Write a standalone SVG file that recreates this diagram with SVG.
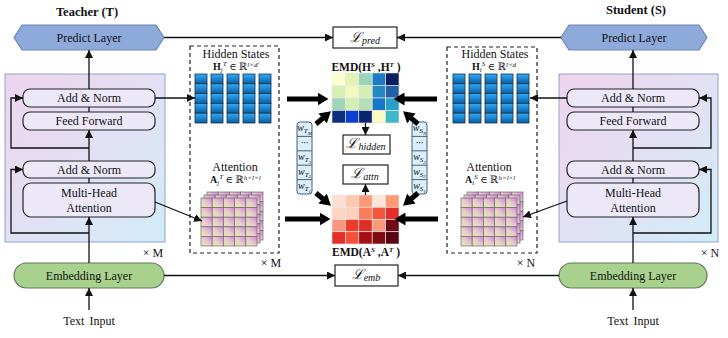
<svg xmlns="http://www.w3.org/2000/svg" xmlns:xlink="http://www.w3.org/1999/xlink" width="728" height="338" viewBox="0 0 728 338">
<style>
text{font-family:"Liberation Serif","DejaVu Serif",serif;fill:#111;}
.lbl{font-size:12px;text-anchor:middle;}
.ttl{font-size:12.5px;font-weight:bold;text-anchor:middle;}
.math{font-size:10px;}
.sm{font-size:7px;font-style:italic;}
.blk{fill:url(#blockGrad);stroke:#8ea6c6;stroke-width:1;}
.inner{fill:#ece8f7;stroke:#222;stroke-width:1.2;}
.pred{fill:#8eaadb;stroke:#6a86b8;stroke-width:1.2;}
.emb{fill:#a9d18e;stroke:#5f7d55;stroke-width:1.2;}
.dash{fill:none;stroke:#222;stroke-width:1.2;stroke-dasharray:4 3;}
.lossbox{fill:#fff;stroke:#222;stroke-width:1.2;}
.loss{font-family:"DejaVu Serif","Liberation Serif",serif;font-size:14px;text-anchor:middle;font-style:italic;}
.lsub{font-family:"Liberation Serif",serif;font-size:10px;font-style:italic;}
.wbox{fill:#dbeef9;stroke:#44607a;stroke-width:1;}
.wt{font-size:10px;font-style:italic;text-anchor:middle;}
.ws1{font-size:7px;}
.ws2{font-size:5px;}
.ln{fill:none;stroke:#111;stroke-width:1.3;}
.thick{fill:none;stroke:#000;stroke-width:5;}
.bc{fill:url(#blueGrad);stroke:#17324f;stroke-width:0.8;}
.ac{fill:url(#attGrad);stroke:#6e6e6e;stroke-width:0.7;}
.mc{stroke:#e8e8e8;stroke-width:0.6;}
</style>
<defs>
<linearGradient id="blockGrad" x1="0" y1="0" x2="1" y2="1">
<stop offset="0" stop-color="#efd3ee"/>
<stop offset="0.5" stop-color="#e2e0f4"/>
<stop offset="1" stop-color="#d2ecf9"/>
</linearGradient>
<linearGradient id="blueGrad" x1="0" y1="0" x2="0" y2="1">
<stop offset="0" stop-color="#3aaaf0"/>
<stop offset="0.5" stop-color="#1a86d2"/>
<stop offset="1" stop-color="#0b5aa0"/>
</linearGradient>
<linearGradient id="attGrad" x1="0" y1="1" x2="1" y2="0">
<stop offset="0" stop-color="#e4eca6"/>
<stop offset="0.45" stop-color="#e6cfc8"/>
<stop offset="1" stop-color="#d47fe0"/>
</linearGradient>
<marker id="ah" markerUnits="userSpaceOnUse" markerWidth="8" markerHeight="8" viewBox="0 0 8 8" refX="8" refY="4" orient="auto">
<path d="M0,0 L8,4 L0,8 z" fill="#111"/>
</marker>
<marker id="big" markerUnits="userSpaceOnUse" markerWidth="11" markerHeight="13" viewBox="0 0 11 13" refX="0.5" refY="6.5" orient="auto">
<path d="M0,0 L11,6.5 L0,13 z" fill="#000"/>
</marker>
<g id="col">
<rect class="bc" x="0" y="0" width="12" height="9.8"/>
<rect class="bc" x="0" y="9.8" width="12" height="9.8"/>
<rect class="bc" x="0" y="19.6" width="12" height="9.8"/>
<rect class="bc" x="0" y="29.4" width="12" height="9.8"/>
<rect class="bc" x="0" y="39.2" width="12" height="9.8"/>
</g>
<g id="arow">
<rect class="ac" x="0" y="0" width="11.2" height="9.6"/>
<rect class="ac" x="11.2" y="0" width="11.2" height="9.6"/>
<rect class="ac" x="22.4" y="0" width="11.2" height="9.6"/>
<rect class="ac" x="33.6" y="0" width="11.2" height="9.6"/>
<rect class="ac" x="44.8" y="0" width="11.2" height="9.6"/>
</g>
<g id="agrid">
<use xlink:href="#arow" href="#arow" y="0"/>
<use xlink:href="#arow" href="#arow" y="9.6"/>
<use xlink:href="#arow" href="#arow" y="19.2"/>
<use xlink:href="#arow" href="#arow" y="28.8"/>
<use xlink:href="#arow" href="#arow" y="38.4"/>
</g>
<g id="hcols">
<use xlink:href="#col" href="#col" x="0"/>
<use xlink:href="#col" href="#col" x="16"/>
<use xlink:href="#col" href="#col" x="32"/>
<use xlink:href="#col" href="#col" x="48"/>
<use xlink:href="#col" href="#col" x="64"/>
</g>
<g id="astack">
<use xlink:href="#agrid" href="#agrid" x="6" y="-6"/>
<use xlink:href="#agrid" href="#agrid" x="3" y="-3"/>
<use xlink:href="#agrid" href="#agrid" x="0" y="0"/>
</g>
</defs>

<rect width="728" height="338" fill="#fff"/>

<!-- Titles -->
<text class="ttl" x="87" y="16">Teacher (T)</text>
<text class="ttl" x="636" y="14">Student (S)</text>

<!-- Teacher -->
<g id="teacher-block">
<rect class="blk" x="5" y="74" width="160" height="168"/>
<text class="lbl" x="153" y="257">× M</text>
</g>
<g id="teacher-predict">
<polygon class="pred" points="14,37.5 22,25 156,25 164,37.5 156,50 22,50"/>
<text class="lbl" x="89" y="42">Predict Layer</text>
</g>
<g id="teacher-addnorm2">
<rect class="inner" x="23" y="89" width="132" height="18" rx="7"/>
<text class="lbl" x="89" y="102">Add &amp; Norm</text>
</g>
<g id="teacher-ff">
<rect class="inner" x="23" y="112" width="132" height="18" rx="7"/>
<text class="lbl" x="89" y="125">Feed Forward</text>
</g>
<g id="teacher-addnorm1">
<rect class="inner" x="23" y="161" width="132" height="17" rx="7"/>
<text class="lbl" x="89" y="173.5">Add &amp; Norm</text>
</g>
<g id="teacher-mha">
<rect class="inner" x="23" y="183" width="132" height="34" rx="8"/>
<text class="lbl" x="89" y="197">Multi-Head</text>
<text class="lbl" x="89" y="212">Attention</text>
</g>
<g id="teacher-embedding">
<rect class="emb" x="14" y="263" width="150" height="25" rx="12.5"/>
<text class="lbl" x="89" y="279.5">Embedding Layer</text>
</g>
<g id="teacher-input">
<text class="lbl" x="89" y="325" word-spacing="2">Text Input</text>
</g>
<g id="teacher-hidden">
<rect class="dash" x="190" y="46" width="89" height="207"/>
<text class="lbl" x="236" y="58">Hidden States</text>
<text class="math" x="213" y="70"><tspan font-weight="bold">H</tspan><tspan class="sm" dy="2">j</tspan><tspan class="sm" dy="-6">T</tspan><tspan dy="4"> ∈ ℝ</tspan><tspan class="sm" dy="-3.5">l×d′</tspan></text>
<use xlink:href="#hcols" href="#hcols" x="195" y="74"/>
<text class="lbl" x="271" y="267">× M</text>
</g>
<g id="teacher-attention">
<text class="lbl" x="235" y="171">Attention</text>
<text class="math" x="210" y="183"><tspan font-weight="bold">A</tspan><tspan class="sm" dy="2">j</tspan><tspan class="sm" dy="-6">T</tspan><tspan dy="4"> ∈ ℝ</tspan><tspan class="sm" dy="-3.5">h×l×l</tspan></text>
<use xlink:href="#astack" href="#astack" x="201" y="198"/>
</g>

<!-- Student -->
<g id="student-block">
<rect class="blk" x="559" y="74" width="159" height="168"/>
<text class="lbl" x="710" y="257">× N</text>
</g>
<g id="student-predict">
<polygon class="pred" points="561,37.5 569,25 699,25 707,37.5 699,50 569,50"/>
<text class="lbl" x="634" y="42">Predict Layer</text>
</g>
<g id="student-addnorm2">
<rect class="inner" x="567" y="89" width="132" height="18" rx="7"/>
<text class="lbl" x="633" y="102">Add &amp; Norm</text>
</g>
<g id="student-ff">
<rect class="inner" x="567" y="112" width="132" height="18" rx="7"/>
<text class="lbl" x="633" y="125">Feed Forward</text>
</g>
<g id="student-addnorm1">
<rect class="inner" x="567" y="161" width="132" height="17" rx="7"/>
<text class="lbl" x="633" y="173.5">Add &amp; Norm</text>
</g>
<g id="student-mha">
<rect class="inner" x="567" y="183" width="132" height="34" rx="8"/>
<text class="lbl" x="633" y="197">Multi-Head</text>
<text class="lbl" x="633" y="212">Attention</text>
</g>
<g id="student-embedding">
<rect class="emb" x="559" y="263" width="148" height="25" rx="12.5"/>
<text class="lbl" x="633" y="279.5">Embedding Layer</text>
</g>
<g id="student-input">
<text class="lbl" x="633" y="325" word-spacing="2">Text Input</text>
</g>
<g id="student-hidden">
<rect class="dash" x="447" y="47" width="90" height="206"/>
<text class="lbl" x="495" y="58">Hidden States</text>
<text class="math" x="472" y="70"><tspan font-weight="bold">H</tspan><tspan class="sm" dy="2">i</tspan><tspan class="sm" dy="-6">S</tspan><tspan dy="4"> ∈ ℝ</tspan><tspan class="sm" dy="-3.5">l×d</tspan></text>
<use xlink:href="#hcols" href="#hcols" x="453" y="74"/>
<text class="lbl" x="526" y="267">× N</text>
</g>
<g id="student-attention">
<text class="lbl" x="489" y="171">Attention</text>
<text class="math" x="465" y="183"><tspan font-weight="bold">A</tspan><tspan class="sm" dy="2">i</tspan><tspan class="sm" dy="-6">S</tspan><tspan dy="4"> ∈ ℝ</tspan><tspan class="sm" dy="-3.5">h×l×l</tspan></text>
<use xlink:href="#astack" href="#astack" x="461" y="198"/>
</g>

<!-- Center -->
<g id="loss-pred">
<rect class="lossbox" x="333" y="27" width="64" height="21"/>
<text class="loss" x="365" y="42">ℒ<tspan class="lsub" dy="2">pred</tspan></text>
</g>
<g id="emd-hidden">
<text x="366" y="71" font-size="11.5" font-weight="bold" text-anchor="middle">EMD(H<tspan class="sm" font-style="normal" dy="-4">S</tspan><tspan dy="4"> ,H</tspan><tspan class="sm" font-style="normal" dy="-4">T</tspan><tspan dy="4"> )</tspan></text>
<g class="mc">
<rect x="332" y="73" width="13.4" height="12.5" fill="#ffffcc"/>
<rect x="345.4" y="73" width="13.4" height="12.5" fill="#e3f2b5"/>
<rect x="358.8" y="73" width="13.4" height="12.5" fill="#99d4b9"/>
<rect x="372.2" y="73" width="13.4" height="12.5" fill="#1d7cc4"/>
<rect x="385.6" y="73" width="13.4" height="12.5" fill="#0a2062"/>
<rect x="332" y="85.5" width="13.4" height="12.5" fill="#d9eeb4"/>
<rect x="345.4" y="85.5" width="13.4" height="12.5" fill="#f2f9c0"/>
<rect x="358.8" y="85.5" width="13.4" height="12.5" fill="#d5eeb3"/>
<rect x="372.2" y="85.5" width="13.4" height="12.5" fill="#2389c0"/>
<rect x="385.6" y="85.5" width="13.4" height="12.5" fill="#245ea8"/>
<rect x="332" y="98" width="13.4" height="12.5" fill="#9fd5b8"/>
<rect x="345.4" y="98" width="13.4" height="12.5" fill="#d4eeb3"/>
<rect x="358.8" y="98" width="13.4" height="12.5" fill="#b4e0b5"/>
<rect x="372.2" y="98" width="13.4" height="12.5" fill="#1877c8"/>
<rect x="385.6" y="98" width="13.4" height="12.5" fill="#2aa0c8"/>
<rect x="332" y="110.5" width="13.4" height="12.5" fill="#0e2f7d"/>
<rect x="345.4" y="110.5" width="13.4" height="12.5" fill="#0b3fd0"/>
<rect x="358.8" y="110.5" width="13.4" height="12.5" fill="#0d2470"/>
<rect x="372.2" y="110.5" width="13.4" height="12.5" fill="#fafac0"/>
<rect x="385.6" y="110.5" width="13.4" height="12.5" fill="#40b8c8"/>
</g>
</g>
<g id="loss-hidden">
<rect class="lossbox" x="343" y="135" width="47" height="19"/>
<text class="loss" x="366" y="148">ℒ<tspan class="lsub" dy="2">hidden</tspan></text>
</g>
<g id="loss-attn">
<rect class="lossbox" x="343" y="165" width="45" height="19"/>
<text class="loss" x="365" y="178">ℒ<tspan class="lsub" dy="2">attn</tspan></text>
</g>
<g id="emd-attn">
<g class="mc">
<rect x="332" y="195" width="13.4" height="12.25" fill="#fde0d2"/>
<rect x="345.4" y="195" width="13.4" height="12.25" fill="#fcc9b0"/>
<rect x="358.8" y="195" width="13.4" height="12.25" fill="#fb9a78"/>
<rect x="372.2" y="195" width="13.4" height="12.25" fill="#fde5da"/>
<rect x="385.6" y="195" width="13.4" height="12.25" fill="#fc9a76"/>
<rect x="332" y="207.25" width="13.4" height="12.25" fill="#fcd5c0"/>
<rect x="345.4" y="207.25" width="13.4" height="12.25" fill="#fdd0bb"/>
<rect x="358.8" y="207.25" width="13.4" height="12.25" fill="#fb7b5c"/>
<rect x="372.2" y="207.25" width="13.4" height="12.25" fill="#f6553c"/>
<rect x="385.6" y="207.25" width="13.4" height="12.25" fill="#e32f27"/>
<rect x="332" y="219.5" width="13.4" height="12.25" fill="#fa9580"/>
<rect x="345.4" y="219.5" width="13.4" height="12.25" fill="#ef3b2c"/>
<rect x="358.8" y="219.5" width="13.4" height="12.25" fill="#e02d26"/>
<rect x="372.2" y="219.5" width="13.4" height="12.25" fill="#fb9a7a"/>
<rect x="385.6" y="219.5" width="13.4" height="12.25" fill="#6d0a14"/>
<rect x="332" y="231.75" width="13.4" height="12.25" fill="#e32f27"/>
<rect x="345.4" y="231.75" width="13.4" height="12.25" fill="#f4503a"/>
<rect x="358.8" y="231.75" width="13.4" height="12.25" fill="#a50f15"/>
<rect x="372.2" y="231.75" width="13.4" height="12.25" fill="#7e0a14"/>
<rect x="385.6" y="231.75" width="13.4" height="12.25" fill="#5c0510"/>
</g>
<text x="366" y="256" font-size="11.5" font-weight="bold" text-anchor="middle">EMD(A<tspan class="sm" font-style="normal" dy="-4">S</tspan><tspan dy="4"> ,A</tspan><tspan class="sm" font-style="normal" dy="-4">T</tspan><tspan dy="4"> )</tspan></text>
</g>
<g id="loss-emb">
<rect class="lossbox" x="335" y="265" width="63" height="21"/>
<text class="loss" x="366" y="279">ℒ<tspan class="lsub" dy="2">emb</tspan></text>
</g>
<g id="teacher-weights">
<rect class="wbox" x="297" y="122" width="15" height="72" rx="3"/>
<path d="M297,136.4H312M297,150.8H312M297,165.2H312M297,179.6H312" stroke="#44607a" stroke-width="1"/>
<text class="wt" x="304.5" y="131">w<tspan class="ws1" dy="2">T</tspan><tspan class="ws2" dy="1.5">M</tspan></text>
<text class="wt" x="304.5" y="146" font-style="normal">···</text>
<text class="wt" x="304.5" y="160">w<tspan class="ws1" dy="2">T</tspan><tspan class="ws2" dy="1.5">3</tspan></text>
<text class="wt" x="304.5" y="174.5">w<tspan class="ws1" dy="2">T</tspan><tspan class="ws2" dy="1.5">2</tspan></text>
<text class="wt" x="304.5" y="189">w<tspan class="ws1" dy="2">T</tspan><tspan class="ws2" dy="1.5">1</tspan></text>
</g>
<g id="student-weights">
<rect class="wbox" x="412" y="122" width="15" height="72" rx="3"/>
<path d="M412,136.4H427M412,150.8H427M412,165.2H427M412,179.6H427" stroke="#44607a" stroke-width="1"/>
<text class="wt" x="419.5" y="131">w<tspan class="ws1" dy="2">S</tspan><tspan class="ws2" dy="1.5">N</tspan></text>
<text class="wt" x="419.5" y="146" font-style="normal">···</text>
<text class="wt" x="419.5" y="160">w<tspan class="ws1" dy="2">S</tspan><tspan class="ws2" dy="1.5">3</tspan></text>
<text class="wt" x="419.5" y="174.5">w<tspan class="ws1" dy="2">S</tspan><tspan class="ws2" dy="1.5">2</tspan></text>
<text class="wt" x="419.5" y="189">w<tspan class="ws1" dy="2">S</tspan><tspan class="ws2" dy="1.5">1</tspan></text>
</g>

<!-- Connectors -->
<g id="connectors">
<line class="ln" x1="89" y1="263" x2="89" y2="217" marker-end="url(#ah)"/>
<line class="ln" x1="89" y1="183" x2="89" y2="178"/>
<line class="ln" x1="89" y1="161" x2="89" y2="130" marker-end="url(#ah)"/>
<line class="ln" x1="89" y1="112" x2="89" y2="107"/>
<line class="ln" x1="89" y1="89" x2="89" y2="50" marker-end="url(#ah)"/>
<path class="ln" d="M89,148H11V98H23" marker-end="url(#ah)"/>
<path class="ln" d="M89,233H11V169.5H23" marker-end="url(#ah)"/>
<line class="ln" x1="89" y1="310" x2="89" y2="288" marker-end="url(#ah)"/>
<line class="ln" x1="633" y1="263" x2="633" y2="217" marker-end="url(#ah)"/>
<line class="ln" x1="633" y1="183" x2="633" y2="178"/>
<line class="ln" x1="633" y1="161" x2="633" y2="130" marker-end="url(#ah)"/>
<line class="ln" x1="633" y1="112" x2="633" y2="107"/>
<line class="ln" x1="633" y1="89" x2="633" y2="50" marker-end="url(#ah)"/>
<path class="ln" d="M633,148H711V98H699" marker-end="url(#ah)"/>
<path class="ln" d="M633,233H711V169.5H699" marker-end="url(#ah)"/>
<line class="ln" x1="633" y1="310" x2="633" y2="288" marker-end="url(#ah)"/>
<line class="ln" x1="164" y1="37.5" x2="333" y2="37.5" marker-end="url(#ah)"/>
<line class="ln" x1="561" y1="37.5" x2="397" y2="37.5" marker-end="url(#ah)"/>
<line class="ln" x1="164" y1="275.5" x2="335" y2="275.5" marker-end="url(#ah)"/>
<line class="ln" x1="559" y1="275.5" x2="398" y2="275.5" marker-end="url(#ah)"/>
<line class="ln" x1="155" y1="98" x2="195" y2="98" marker-end="url(#ah)"/>
<line class="ln" x1="567" y1="98" x2="530" y2="98" marker-end="url(#ah)"/>
<line class="ln" x1="155" y1="202" x2="202" y2="221" marker-end="url(#ah)"/>
<line class="ln" x1="567" y1="201" x2="523" y2="217" marker-end="url(#ah)"/>
<line class="ln" x1="365.5" y1="123" x2="365.5" y2="135" marker-end="url(#ah)"/>
<line class="ln" x1="365.5" y1="195" x2="365.5" y2="184" marker-end="url(#ah)"/>
<line class="thick" x1="287" y1="99" x2="318" y2="99" marker-end="url(#big)"/>
<line class="thick" x1="437" y1="99" x2="404" y2="99" marker-end="url(#big)"/>
<line class="thick" x1="285" y1="219" x2="320" y2="219" marker-end="url(#big)"/>
<line class="thick" x1="438" y1="219" x2="405" y2="219" marker-end="url(#big)"/>
<line class="thick" x1="316" y1="124" x2="323" y2="118" marker-end="url(#big)"/>
<line class="thick" x1="418" y1="124" x2="411" y2="118" marker-end="url(#big)"/>
<line class="thick" x1="316" y1="193" x2="323" y2="199" marker-end="url(#big)"/>
<line class="thick" x1="418" y1="193" x2="411" y2="199" marker-end="url(#big)"/>
</g>
</svg>
